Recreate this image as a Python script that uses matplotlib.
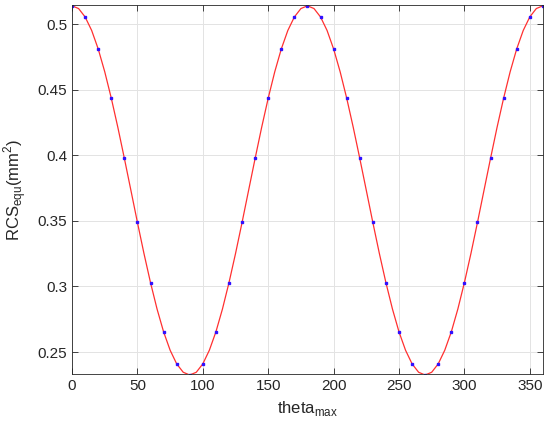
import matplotlib.pyplot as plt

# theta_max in degrees, curve sampled every 5 deg
theta = list(range(0, 361, 5))
quarter = [0.5140, 0.5119, 0.5055, 0.4952, 0.4811, 0.4637, 0.4436, 0.4214,
           0.3977, 0.3733, 0.3488, 0.3251, 0.3029, 0.2828, 0.2654, 0.2514,
           0.2410, 0.2346, 0.2325]
# one half period 0..180, then repeat for 180..360
half = quarter + quarter[-2::-1]
rcs = half + half[1:]

# markers every 10 deg
theta_pts = theta[::2]
rcs_pts = rcs[::2]

plt.rcParams['font.family'] = ['Liberation Sans', 'DejaVu Sans']

fig = plt.figure(figsize=(5.5, 4.29), dpi=100)
ax = fig.add_axes([0.131, 0.128, 0.856, 0.860])

ax.plot(theta, rcs, color='#ff3030', linewidth=0.9)
ax.plot(theta_pts, rcs_pts, linestyle='none', marker='s', markersize=1.5,
        color='#3010ff')

ax.set_xlim(0, 360)
ax.set_ylim(0.2332, 0.5145)
ax.set_xticks(range(0, 351, 50))
ax.set_yticks([0.25, 0.3, 0.35, 0.4, 0.45, 0.5])
ax.set_yticklabels(['0.25', '0.3', '0.35', '0.4', '0.45', '0.5'])
ax.grid(True, color='#e3e3e3', linewidth=0.7)
ax.set_axisbelow(True)
ax.tick_params(direction='in', top=True, right=True, labelsize=11,
               colors='#262626', length=4, width=0.6)
for s in ax.spines.values():
    s.set_color('#262626')
    s.set_linewidth(0.6)

ax.set_xlabel(r'theta$_{\mathregular{max}}$', fontsize=12, color='#262626')
ax.set_ylabel(r'RCS$_{\mathregular{equ}}$(mm$^{\mathregular{2}}$)', fontsize=12,
              color='#262626', labelpad=6)

plt.savefig('out.png', dpi=100)
